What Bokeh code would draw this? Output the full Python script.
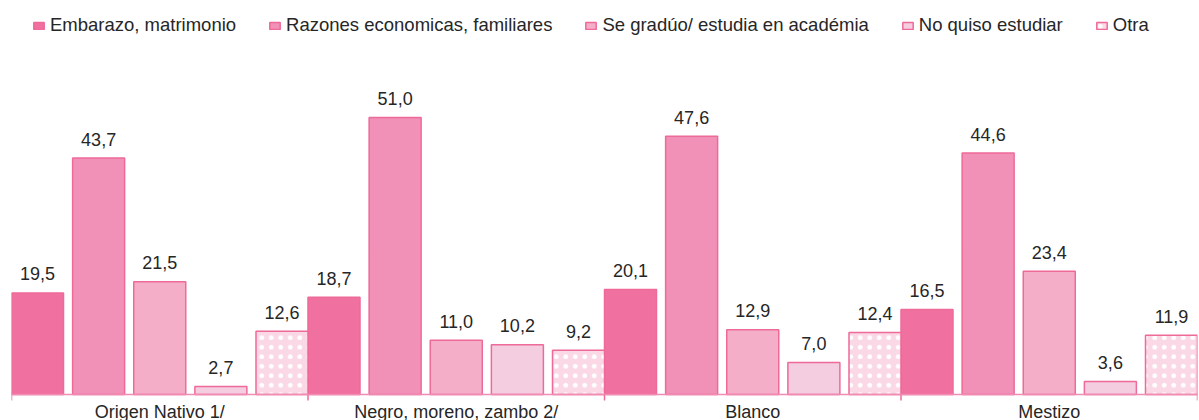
from bokeh.plotting import figure
from bokeh.models import ColumnDataSource, FactorRange, Range1d, Span
from bokeh.transform import dodge
from bokeh.core.properties import value
from bokeh.embed import file_html
from bokeh.resources import INLINE

categories = ["Origen Nativo 1/", "Negro, moreno, zambo 2/", "Blanco", "Mestizo"]
series_names = ["Embarazo, matrimonio", "Razones economicas, familiares",
                "Se gradúo/ estudia en académia", "No quiso estudiar", "Otra"]
embarazo = [19.5, 18.7, 20.1, 16.5]
razones = [43.7, 51.0, 47.6, 44.6]
graduo = [21.5, 11.0, 12.9, 23.4]
no_quiso = [2.7, 10.2, 7.0, 3.6]
otra = [12.6, 9.2, 12.4, 11.9]
series_values = [embarazo, razones, graduo, no_quiso, otra]

fills = ["#F070A0", "#F191B8", "#F5AEC8", "#F5CDE0", "#FAD8E5"]
border = "#EE6A98"
axis_color = "#F08CB4"
text_color = "#262626"
FONT = "Liberation Sans"

H = 420
px_per_unit = 5.57               # vertical scale of the value axis
zero_from_bottom = 19            # pixels between value 0 and the bottom edge
axis_floor = 7 / px_per_unit     # value at which the baseline sits
tick_len = 6 / px_per_unit
y_start = -zero_from_bottom / px_per_unit
y_end = y_start + H / px_per_unit

p = figure(x_range=FactorRange(*categories, range_padding=0),
           y_range=Range1d(y_start, y_end),
           width=1199, height=H, output_backend="svg", toolbar_location=None,
           x_axis_location=None, y_axis_location=None,
           min_border_left=11, min_border_right=2, min_border_top=0, min_border_bottom=0)
p.outline_line_color = None
p.background_fill_color = "white"
p.border_fill_color = "white"
p.xgrid.grid_line_color = None
p.ygrid.grid_line_color = None

n = len(series_names)
bar_w = 52 / 296.5
step = (1 - bar_w) / (n - 1)

for i, (name, vals, col) in enumerate(zip(series_names, series_values, fills)):
    src = ColumnDataSource(dict(cat=categories, val=vals,
                                lbl=[f"{v:.1f}".replace(".", ",") for v in vals]))
    off = -0.5 + bar_w / 2 + i * step
    xs = dodge("cat", off, range=p.x_range)
    kw = {}
    if i == n - 1:
        kw = dict(hatch_pattern="dot", hatch_color="white", hatch_scale=9.5, hatch_weight=3.5)
    p.vbar(x=xs, top="val", bottom=axis_floor, width=bar_w, source=src,
           fill_color=col, line_color=border, line_width=1.5, legend_label=name, **kw)
    p.text(x=xs, y="val", text="lbl", source=src, text_align="center",
           text_baseline="alphabetic", y_offset=-19,
           text_font=value(FONT), text_font_size="18px", text_color=text_color)

# baseline, category boundary ticks and category labels
p.add_layout(Span(location=axis_floor, dimension="width", line_color=axis_color, line_width=1.5))
edges = list(range(len(categories) + 1))
p.segment(x0=edges, y0=[axis_floor] * len(edges), x1=edges,
          y1=[axis_floor - tick_len] * len(edges), line_color=border, line_width=1.5)
cat_src = ColumnDataSource(dict(cat=categories, y=[axis_floor] * len(categories)))
p.text(x="cat", y="y", text="cat", source=cat_src, text_align="center",
       text_baseline="alphabetic", y_offset=17,
       text_font=value(FONT), text_font_size="18px", text_color=text_color)

lg = p.legend[0]
lg.location = (21, 384)
lg.orientation = "horizontal"
lg.glyph_width = 13
lg.glyph_height = 9
lg.label_standoff = 5
lg.spacing = 32
lg.padding = 0
lg.margin = 0
lg.label_text_font = FONT
lg.label_text_font_size = "18.5px"
lg.label_text_color = text_color
lg.border_line_color = None
lg.background_fill_alpha = 0

open("out.html", "w").write(file_html(p, INLINE))
